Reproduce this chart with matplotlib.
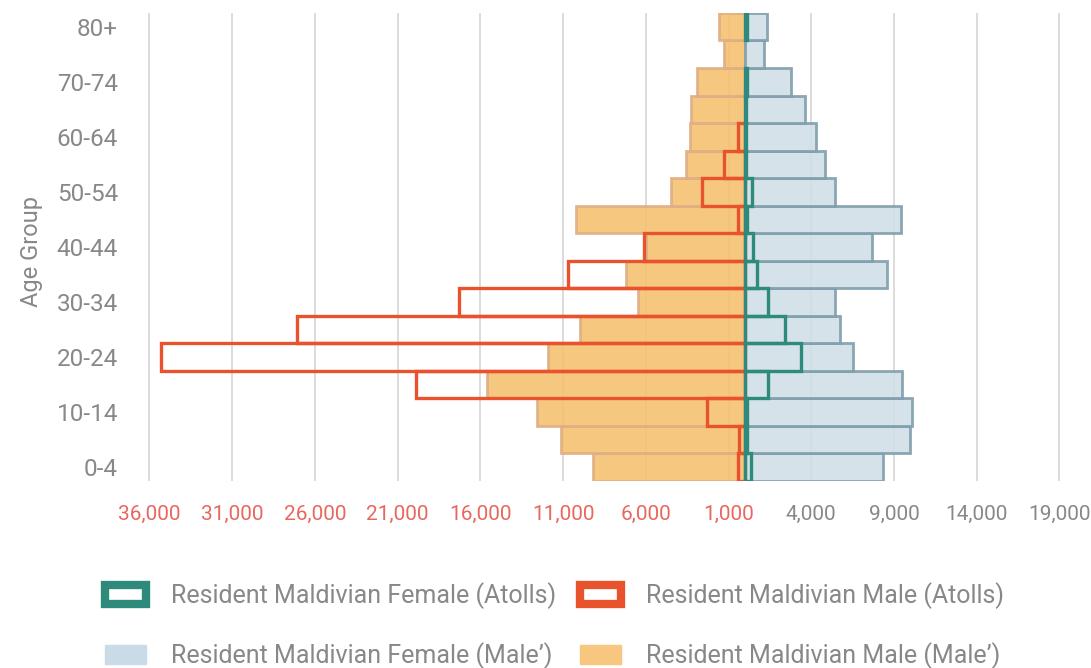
import numpy as np
import matplotlib
matplotlib.use("Agg")
import matplotlib.pyplot as plt
from matplotlib.patches import Patch

plt.rcParams['font.family'] = ['Roboto', 'DejaVu Sans']

# age bands, bottom to top
age_groups = ["0-4", "5-9", "10-14", "15-19", "20-24", "25-29", "30-34", "35-39",
              "40-44", "45-49", "50-54", "55-59", "60-64", "65-69", "70-74",
              "75-79", "80+"]

# population counts
male_capital = [9200, 11100, 12600, 15600, 11900, 10000, 6500, 7200,
                6000, 10200, 4500, 3600, 3350, 3250, 2900, 1250, 1550]
female_capital = [8350, 9950, 10100, 9500, 6500, 5750, 5450, 8550,
                  7700, 9400, 5450, 4850, 4300, 3650, 2750, 1170, 1350]
male_atolls = [450, 350, 2300, 19900, 35300, 27100, 17300, 10700,
               6100, 450, 2600, 1300, 450, 0, 0, 0, 0]
female_atolls = [350, 100, 100, 1400, 3400, 2400, 1400, 700,
                 450, 100, 400, 30, 30, 30, 100, 0, 100]

left_ticks = [-36000, -31000, -26000, -21000, -16000, -11000, -6000, -1000]
right_ticks = [4000, 9000, 14000, 19000]

teal = "#2e8b7b"
red = "#e8532e"
grey_txt = "#888888"

fig = plt.figure(figsize=(10.91, 6.68), dpi=100)
ax = fig.add_axes([0.1324, 0.28, 0.8478, 0.7006])

y = np.arange(len(age_groups))
mc = np.array(male_capital)
fc = np.array(female_capital)
ma = np.array(male_atolls)
fa = np.array(female_atolls)

# Male' bars (filled)
ax.barh(y, -mc, height=1.0, color="#f6c171", alpha=0.9, edgecolor="#dfae84",
        linewidth=2.0, zorder=2)
ax.barh(y, fc, height=1.0, color="#d1dfe8", alpha=0.9, edgecolor="#7f9eab",
        linewidth=2.0, zorder=2)

# Atolls bars (outline only), skip empty rows
m = ma > 0
ax.barh(y[m], -ma[m], height=1.0, fill=False, edgecolor=red, linewidth=2.4, zorder=3)
m = fa > 0
ax.barh(y[m], fa[m], height=1.0, fill=False, edgecolor=teal, linewidth=2.4, zorder=3)

ax.set_xlim(-36300, 19600)
ax.set_ylim(-0.5, len(age_groups) - 0.5)

ticks = left_ticks + right_ticks
ax.set_xticks(ticks)
ax.set_xticklabels(["{:,}".format(abs(t)) for t in ticks], fontsize=15)
for t, lab in zip(ticks, ax.get_xticklabels()):
    lab.set_color("#e8675f" if t < 0 else grey_txt)
ax.tick_params(axis='x', length=0, pad=17)

ax.set_yticks(y[::2])
ax.set_yticklabels(age_groups[::2], fontsize=17.5, color=grey_txt)
ax.tick_params(axis='y', length=0, pad=19)

ax.set_ylabel("Age Group", fontsize=17, color=grey_txt)
ax.yaxis.set_label_coords(-0.11, 0.49)

ax.grid(axis='x', color="#dcdcdc", linewidth=1.4, zorder=0)
ax.set_axisbelow(True)
for s in ax.spines.values():
    s.set_visible(False)

# legend filled column by column: Atolls/Male' female first, then male
handles = [
    Patch(facecolor="white", edgecolor=teal, linewidth=6),
    Patch(facecolor="#c9dbe6", edgecolor="#c9dbe6", linewidth=1),
    Patch(facecolor="white", edgecolor=red, linewidth=6),
    Patch(facecolor="#f7c77f", edgecolor="#f7c77f", linewidth=1),
]
labels = ["Resident Maldivian Female (Atolls)", "Resident Maldivian Female (Male\u2019)",
          "Resident Maldivian Male (Atolls)", "Resident Maldivian Male (Male\u2019)"]
leg = fig.legend(handles, labels, ncol=2, loc="upper left",
                 bbox_to_anchor=(105 / 1091, (668 - 582) / 668),
                 frameon=False, fontsize=18, labelcolor=grey_txt,
                 handlelength=1.65, handleheight=0.8, handletextpad=1.0,
                 columnspacing=0.95, labelspacing=1.35, borderpad=0, borderaxespad=0)

fig.savefig("out.png", dpi=100)
